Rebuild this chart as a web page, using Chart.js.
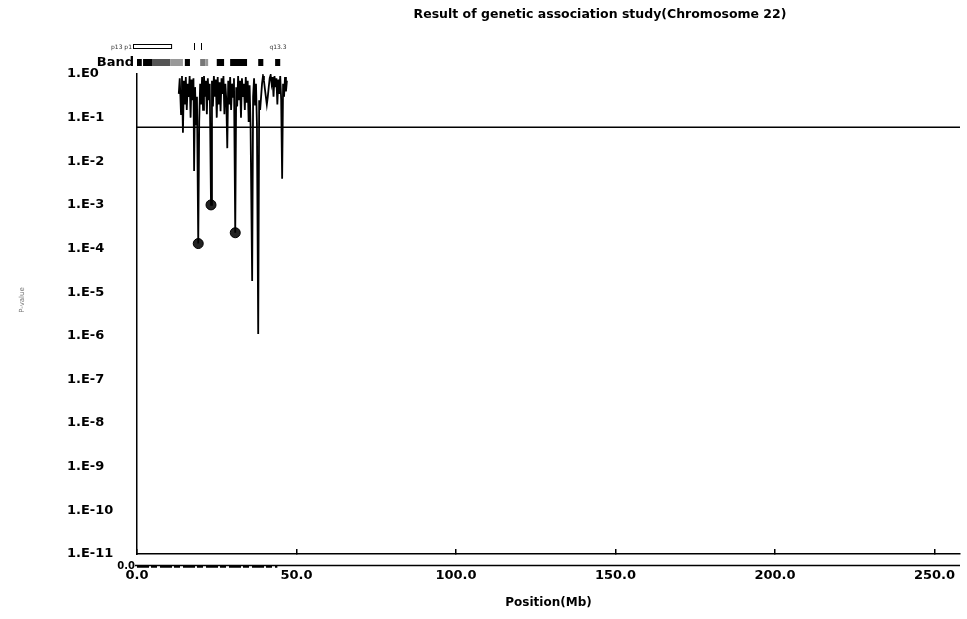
<!DOCTYPE html>
<html>
<head>
<meta charset="utf-8">
<script src="https://cdn.jsdelivr.net/npm/chart.js@4.4.1/dist/chart.umd.min.js"></script>
<style>
    html, body { margin: 0; padding: 0; background: #fff; }
    #wrap { width: 967px; height: 619px; position: relative; }
</style>
</head>
<body>
<div id="wrap"><canvas id="assocChart"></canvas></div>
<script>
// SNP positions on chromosome 22 (Mb) and their association p-values
const positionsMb = [
    13.1, 13.4, 13.8, 14.1, 14.4, 14.7, 15.0, 15.3, 15.6, 15.9, 16.2, 16.5, 16.8, 17.1, 17.4, 17.7,
    17.9, 18.2, 18.5, 18.8, 19.2, 19.5, 19.8, 20.1, 20.4, 20.7, 21.0, 21.3, 21.6, 21.9, 22.2, 22.5,
    22.8, 23.2, 23.5, 23.8, 24.1, 24.4, 24.7, 25.0, 25.3, 25.6, 25.9, 26.2, 26.5, 26.8, 27.1, 27.4,
    27.7, 28.0, 28.3, 28.6, 28.9, 29.2, 29.5, 29.8, 30.1, 30.4, 30.8, 31.1, 31.4, 31.7, 32.0, 32.3,
    32.6, 32.9, 33.2, 33.5, 33.8, 34.1, 34.4, 34.7, 35.0, 35.3, 35.6, 36.1, 36.4, 36.7, 37.0, 37.3,
    37.6, 38.0, 38.3, 38.6, 38.9, 39.2, 39.5, 39.8, 40.1, 40.4, 40.7, 41.0, 41.3, 41.6, 41.9, 42.2,
    42.5, 42.8, 43.1, 43.4, 43.7, 44.0, 44.3, 44.6, 44.9, 45.2, 45.5, 45.8, 46.1, 46.4, 46.7, 47.0
];
const pValues = [
    0.35, 0.8, 0.12, 0.9, 0.045, 0.7, 0.2, 0.85, 0.15, 0.6, 0.3, 0.9, 0.1, 0.75, 0.25, 0.8,
    0.006, 0.5, 0.07, 0.3, 0.00013, 0.08, 0.6, 0.2, 0.85, 0.15, 0.9, 0.3, 0.7, 0.12, 0.8, 0.25,
    0.6, 0.001, 0.7, 0.18, 0.9, 0.3, 0.75, 0.1, 0.85, 0.2, 0.65, 0.14, 0.8, 0.35, 0.9, 0.12,
    0.6, 0.25, 0.02, 0.7, 0.2, 0.85, 0.15, 0.6, 0.3, 0.8, 0.00023, 0.5, 0.18, 0.9, 0.25, 0.7,
    0.1, 0.8, 0.3, 0.6, 0.15, 0.85, 0.22, 0.7, 0.08, 0.55, 0.065, 0.000018, 0.3, 0.8, 0.2, 0.6,
    0.07, 0.0000011, 0.25, 0.15, 0.3, 0.6, 0.9, 0.7, 0.45, 0.3, 0.2, 0.3, 0.5, 0.8, 0.95, 0.6,
    0.85, 0.3, 0.9, 0.5, 0.8, 0.2, 0.75, 0.35, 0.9, 0.25, 0.004, 0.6, 0.3, 0.85, 0.4, 0.7
];

// markers that get a filled dot
const hitPositions = [19.2, 23.2, 30.8];
const hitPValues = [0.00013, 0.001, 0.00023];

const significance = 0.06;
const chromEnd = 258;

const yDecades = [0, -1, -2, -3, -4, -5, -6, -7, -8, -9, -10, -11];
const xTicks = [0, 50, 100, 150, 200, 250];

// cytoband ideogram (Mb) and stain
const bandStarts = [0, 1.9, 4.7, 10.4, 15.0, 19.8, 21.4, 25.0, 29.2, 38.0, 43.3];
const bandEnds = [1.5, 4.7, 10.4, 14.4, 16.6, 21.4, 22.3, 27.3, 34.5, 39.6, 44.9];
const bandStains = ['gpos', 'gpos', 'gvar', 'gpos25', 'gpos', 'gpos50', 'gpos25', 'gpos', 'gpos', 'gpos', 'gpos'];

// coverage strip under the axis (Mb)
const coverageStart = 0;
const coverageEnd = 44;

const stainColors = { gpos: '#000', gvar: '#555', gpos50: '#777', gpos25: '#999' };

Chart.defaults.color = '#000';
Chart.defaults.font.family = "'DejaVu Sans', sans-serif";
Chart.defaults.font.weight = 'bold';
Chart.defaults.font.size = 13;

const decorations = {
    id: 'decorations',
    afterDraw(chart) {
        const ctx = chart.ctx;
        const xs = chart.scales.x;
        const area = chart.chartArea;
        ctx.save();

        // title
        ctx.fillStyle = '#000';
        ctx.font = "bold 12.5px 'DejaVu Sans', sans-serif";
        ctx.textAlign = 'center';
        ctx.textBaseline = 'middle';
        ctx.fillText('Result of genetic association study(Chromosome 22)', 600, 15);

        // y axis title, small and faint
        ctx.save();
        ctx.translate(22, 300);
        ctx.rotate(-Math.PI / 2);
        ctx.fillStyle = '#777';
        ctx.font = "7px 'DejaVu Sans', sans-serif";
        ctx.fillText('P-value', 0, 0);
        ctx.restore();

        // band ideogram
        ctx.font = "bold 13px 'DejaVu Sans', sans-serif";
        ctx.textAlign = 'right';
        ctx.fillText('Band', area.left - 3, 63);
        for (let i = 0; i < bandStarts.length; i++) {
            const x1 = xs.getPixelForValue(bandStarts[i]);
            const x2 = xs.getPixelForValue(bandEnds[i]);
            ctx.fillStyle = stainColors[bandStains[i]];
            ctx.fillRect(x1, 59, x2 - x1, 7);
        }
        // short arm outline and labels
        const pEnd = xs.getPixelForValue(11);
        ctx.strokeStyle = '#000';
        ctx.lineWidth = 1;
        ctx.strokeRect(area.left - 3.5, 44.5, pEnd - area.left + 3, 4);
        ctx.beginPath();
        [18, 20].forEach(v => {
            const px = Math.round(xs.getPixelForValue(v)) + 0.5;
            ctx.moveTo(px, 43);
            ctx.lineTo(px, 50);
        });
        ctx.stroke();
        ctx.font = "6px 'DejaVu Sans', sans-serif";
        ctx.fillStyle = '#333';
        ctx.textAlign = 'right';
        ctx.fillText('p13 p1', area.left - 5, 47);
        ctx.textAlign = 'left';
        ctx.fillText('q13.3', xs.getPixelForValue(41.5), 47);

        // second track under the plot
        const trackY = Math.round(area.bottom + 11) + 0.5;
        ctx.strokeStyle = '#000';
        ctx.lineWidth = 1.5;
        ctx.beginPath();
        ctx.moveTo(area.left - 2, trackY);
        ctx.lineTo(area.right, trackY);
        ctx.stroke();
        ctx.lineWidth = 2.5;
        ctx.setLineDash([12, 2, 6, 3]);
        ctx.beginPath();
        ctx.moveTo(xs.getPixelForValue(coverageStart), trackY + 1);
        ctx.lineTo(xs.getPixelForValue(coverageEnd), trackY + 1);
        ctx.stroke();
        ctx.setLineDash([]);
        ctx.fillStyle = '#000';
        ctx.font = "bold 10px 'DejaVu Sans', sans-serif";
        ctx.textAlign = 'right';
        ctx.textBaseline = 'middle';
        ctx.fillText('0.0', area.left - 2, trackY + 1);

        ctx.restore();
    }
};

document.addEventListener('DOMContentLoaded', function () {
    const snpPoints = positionsMb.map((x, i) => ({ x: x, y: pValues[i] }));
    const hitPoints = hitPositions.map((x, i) => ({ x: x, y: hitPValues[i] }));

    new Chart(document.getElementById('assocChart'), {
        type: 'line',
        data: {
            datasets: [
                {
                    label: 'P-value',
                    data: snpPoints,
                    borderColor: '#000',
                    borderWidth: 1.8,
                    pointRadius: 0,
                    tension: 0
                },
                {
                    label: 'Threshold',
                    data: [{ x: 0, y: significance }, { x: chromEnd, y: significance }],
                    borderColor: '#000',
                    borderWidth: 1.5,
                    pointRadius: 0
                },
                {
                    type: 'scatter',
                    label: 'Hits',
                    data: hitPoints,
                    backgroundColor: '#222',
                    borderColor: '#000',
                    borderWidth: 1,
                    pointRadius: 5
                }
            ]
        },
        options: {
            responsive: true,
            maintainAspectRatio: false,
            animation: false,
            layout: {
                padding: { top: 74, left: 67, right: 7, bottom: 5 }
            },
            plugins: {
                legend: { display: false },
                tooltip: { enabled: false }
            },
            scales: {
                x: {
                    type: 'linear',
                    min: 0,
                    max: chromEnd,
                    afterBuildTicks: scale => {
                        scale.ticks = xTicks.map(v => ({ value: v }));
                    },
                    afterFit: scale => {
                        scale.height = 60;
                        // labels fit inside the plot width, no extra side padding needed
                        scale.paddingLeft = 0;
                        scale.paddingRight = 0;
                    },
                    ticks: {
                        padding: 19,
                        maxRotation: 0,
                        callback: value => Number(value).toFixed(1)
                    },
                    grid: {
                        drawOnChartArea: false,
                        tickLength: -5,
                        color: '#000',
                        lineWidth: 1.5
                    },
                    border: { color: '#000', width: 1.5 },
                    title: {
                        display: true,
                        text: 'Position(Mb)',
                        font: { size: 12 },
                        padding: { top: 4, bottom: 4 }
                    }
                },
                y: {
                    type: 'logarithmic',
                    min: 1e-11,
                    max: 1,
                    afterBuildTicks: scale => {
                        scale.ticks = yDecades.map(e => ({ value: Math.pow(10, e) }));
                    },
                    afterFit: scale => {
                        scale.width = 70;
                    },
                    ticks: {
                        crossAlign: 'far',
                        autoSkip: false,
                        callback: value => '1.E' + Math.round(Math.log10(value))
                    },
                    grid: {
                        drawOnChartArea: false,
                        drawTicks: false
                    },
                    border: { color: '#000', width: 1.5 }
                }
            }
        },
        plugins: [decorations]
    });
});
</script>
</body>
</html>
